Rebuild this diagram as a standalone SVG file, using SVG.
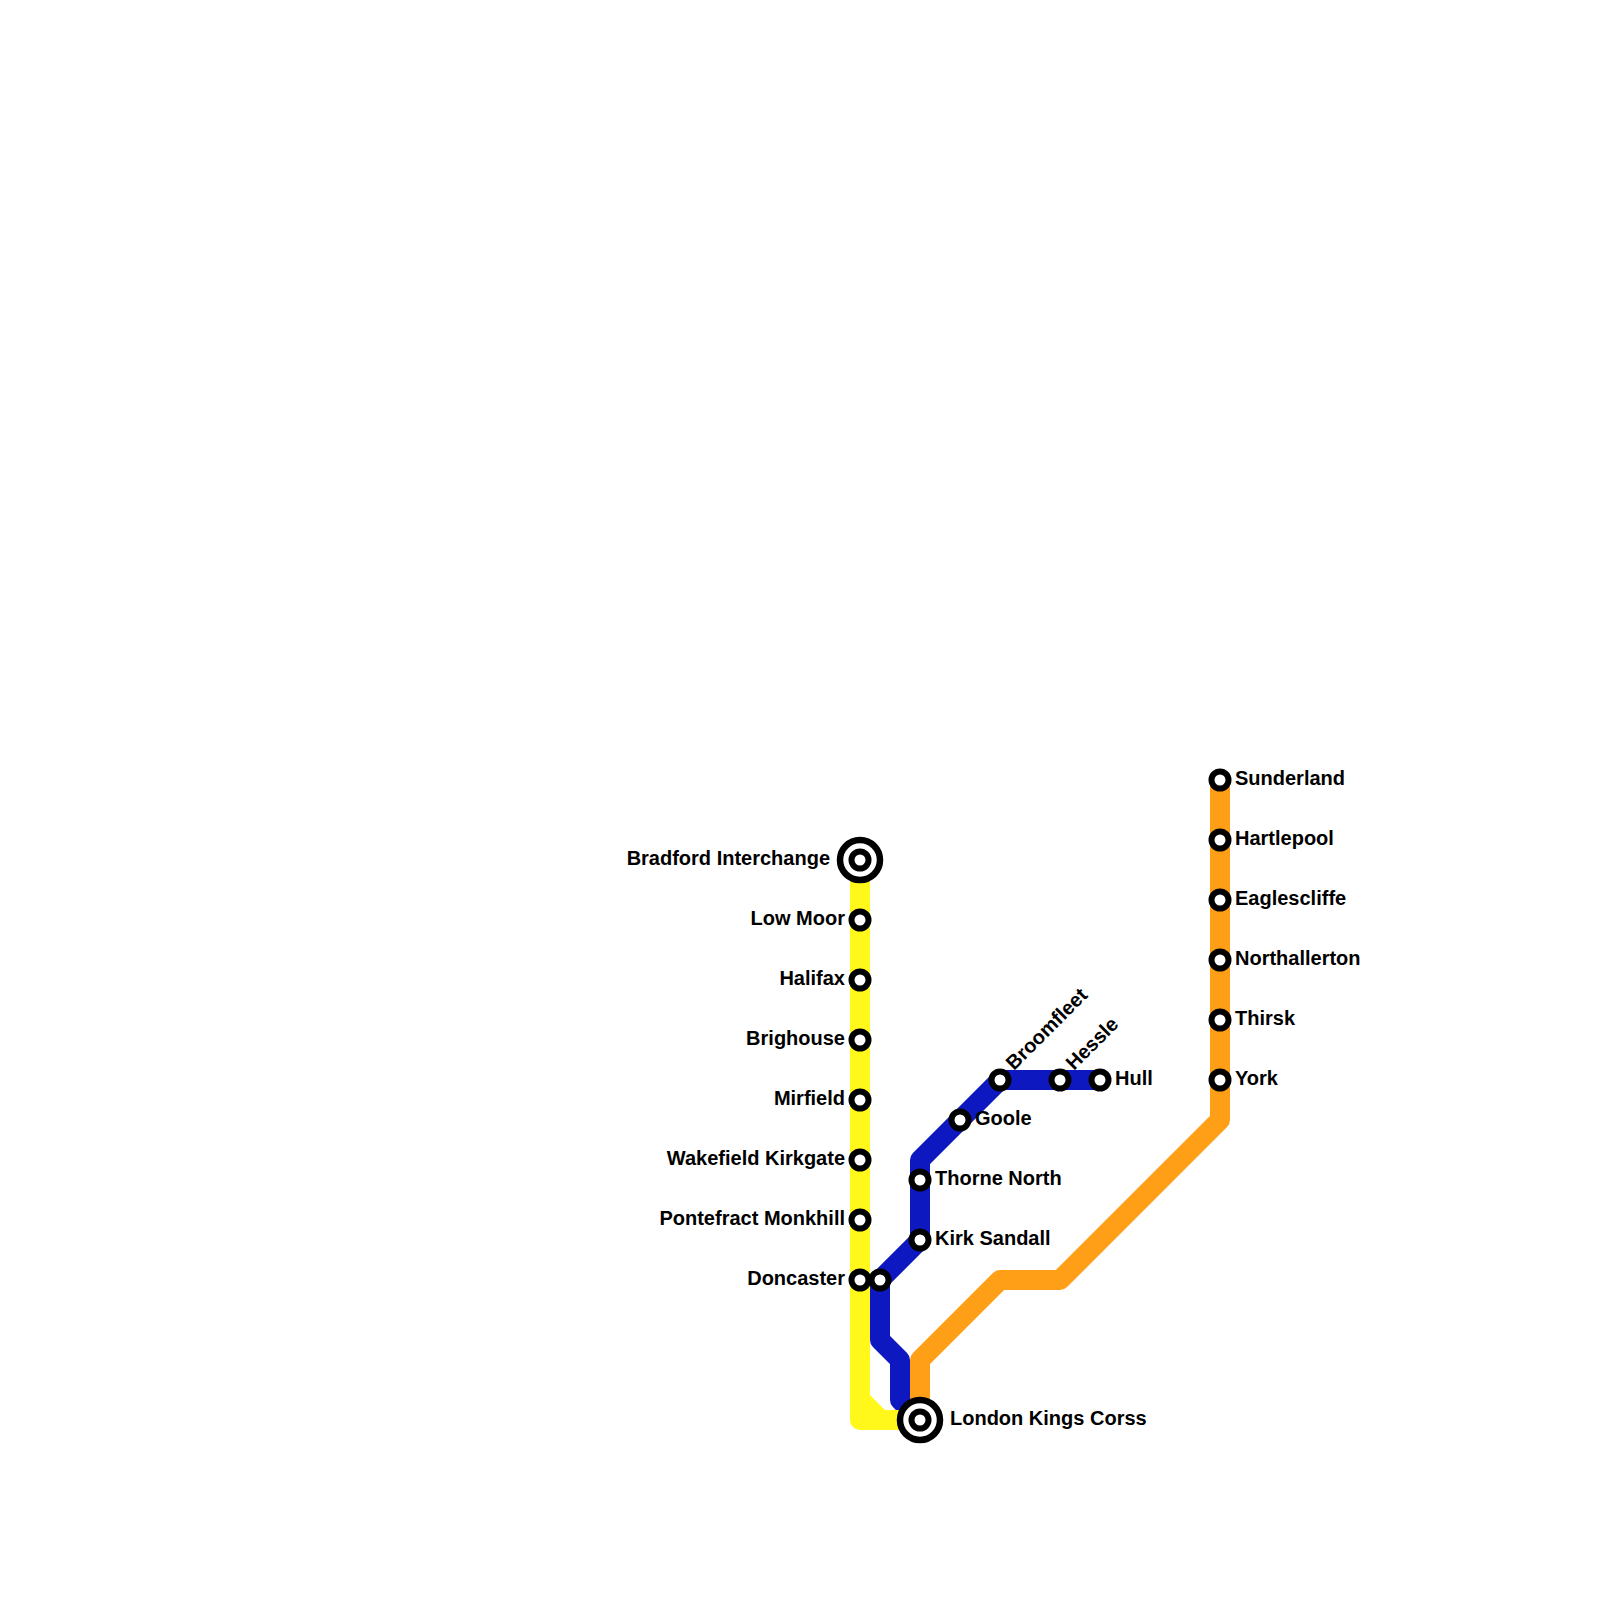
<svg xmlns="http://www.w3.org/2000/svg" width="1600" height="1600" viewBox="0 0 1600 1600">
<style>
.l{fill:none;stroke-width:20;stroke-linejoin:round;stroke-linecap:round}
.s{fill:#fff;stroke:#000;stroke-width:6}
.i{fill:#fff;stroke:#000;stroke-width:6.5}
text{font-family:"Liberation Sans",Arial,sans-serif;font-size:20px;font-weight:700;fill:#000}
.e{text-anchor:end}
</style>
<rect width="1600" height="1600" fill="#fff"/>
<g id="connectors">
<path class="l" stroke="#0e18c0" d="M920 1420L900 1400V1360L880 1340V1280L920 1240V1160L1000 1080H1100"/>
<path fill="#fff81a" d="M850 860V1420a10 10 0 0 0 10 10H920V1410H885L870 1395V860Z"/>
<path class="l" stroke="#ff9f17" d="M920 1420V1360L1000 1280H1060L1220 1120V780"/>
</g>
<g id="bradford"><circle class="i" cx="860" cy="860" r="20"/><circle class="s" cx="860" cy="860" r="8.5"/><text class="e" x="830" y="865">Bradford Interchange</text></g>
<g id="lowmoor"><circle class="s" cx="860" cy="920" r="8.5"/><text class="e" x="845" y="925">Low Moor</text></g>
<g id="halifax"><circle class="s" cx="860" cy="980" r="8.5"/><text class="e" x="845" y="985">Halifax</text></g>
<g id="brighouse"><circle class="s" cx="860" cy="1040" r="8.5"/><text class="e" x="845" y="1045">Brighouse</text></g>
<g id="mirfield"><circle class="s" cx="860" cy="1100" r="8.5"/><text class="e" x="845" y="1105">Mirfield</text></g>
<g id="wakefield"><circle class="s" cx="860" cy="1160" r="8.5"/><text class="e" x="845" y="1165">Wakefield Kirkgate</text></g>
<g id="pontefract"><circle class="s" cx="860" cy="1220" r="8.5"/><text class="e" x="845" y="1225">Pontefract Monkhill</text></g>
<g id="doncaster"><circle class="s" cx="860" cy="1280" r="8.5"/><circle class="s" cx="880" cy="1280" r="8.5"/><text class="e" x="845" y="1285">Doncaster</text></g>
<g id="kingscross"><circle class="i" cx="920" cy="1420" r="20"/><circle class="s" cx="920" cy="1420" r="8.5"/><text x="950" y="1425">London Kings Corss</text></g>
<g id="kirksandall"><circle class="s" cx="920" cy="1240" r="8.5"/><text x="935" y="1245">Kirk Sandall</text></g>
<g id="thorne"><circle class="s" cx="920" cy="1180" r="8.5"/><text x="935" y="1185">Thorne North</text></g>
<g id="goole"><circle class="s" cx="960" cy="1120" r="8.5"/><text x="975" y="1125">Goole</text></g>
<g id="broomfleet"><circle class="s" cx="1000" cy="1080" r="8.5"/><text transform="translate(1014 1071) rotate(-45)">Broomfleet</text></g>
<g id="hessle"><circle class="s" cx="1060" cy="1080" r="8.5"/><text transform="translate(1074 1071) rotate(-45)">Hessle</text></g>
<g id="hull"><circle class="s" cx="1100" cy="1080" r="8.5"/><text x="1115" y="1085">Hull</text></g>
<g id="york"><circle class="s" cx="1220" cy="1080" r="8.5"/><text x="1235" y="1085">York</text></g>
<g id="thirsk"><circle class="s" cx="1220" cy="1020" r="8.5"/><text x="1235" y="1025">Thirsk</text></g>
<g id="northallerton"><circle class="s" cx="1220" cy="960" r="8.5"/><text x="1235" y="965">Northallerton</text></g>
<g id="eaglescliffe"><circle class="s" cx="1220" cy="900" r="8.5"/><text x="1235" y="905">Eaglescliffe</text></g>
<g id="hartlepool"><circle class="s" cx="1220" cy="840" r="8.5"/><text x="1235" y="845">Hartlepool</text></g>
<g id="sunderland"><circle class="s" cx="1220" cy="780" r="8.5"/><text x="1235" y="785">Sunderland</text></g>
</svg>
